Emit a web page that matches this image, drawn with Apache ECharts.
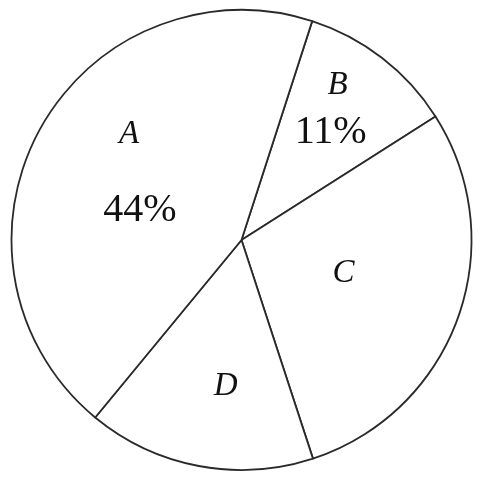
<!DOCTYPE html>
<html>
<head>
<meta charset="utf-8">
<script src="https://cdn.jsdelivr.net/npm/echarts@6/dist/echarts.min.js"></script>
<style>
  html, body { margin: 0; padding: 0; background: #fff; }
  #pieChart { width: 481px; height: 479px; }
</style>
</head>
<body>
<div id="pieChart"></div>
<script>
// 数据（顺时针，从 B 开始）
var categories = ['B', 'C', 'D', 'A'];
var values = [11, 29, 16, 44];
var showPercent = [true, false, false, true];

// 标签微调（相对扇区内部默认位置）
var labelShift = [[17, -38], [-9, -6], [6, 30], [2, -11]];

var serif = "'Liberation Serif', 'Times New Roman', serif";

var pieChart = echarts.init(document.getElementById('pieChart'), null, { renderer: 'canvas' });

var pieData = categories.map(function (name, i) {
    return { name: name, value: values[i] };
});

function richStyle(lh, pad) {
    return {
        n: { fontFamily: serif, fontStyle: 'italic', fontSize: 33, color: '#111111', lineHeight: lh, padding: pad },
        p: { fontFamily: serif, fontSize: 40, color: '#111111', lineHeight: lh }
    };
}

var option = {
    backgroundColor: '#ffffff',
    animation: false,
    series: [{
        type: 'pie',
        center: [241.5, 240],
        radius: [0, 230],
        startAngle: 72.1,
        clockwise: true,
        avoidLabelOverlap: false,
        itemStyle: {
            color: '#ffffff',
            borderColor: '#2a2a2a',
            borderWidth: 1.8
        },
        emphasis: { disabled: true },
        label: {
            show: true,
            position: 'inside',
            fontFamily: serif,
            color: '#111111',
            formatter: function (p) {
                var s = '{n|' + p.name + '}';
                if (showPercent[p.dataIndex]) {
                    s += '\n{p|' + Math.round(p.percent) + '%}';
                }
                return s;
            },
            rich: richStyle(40, 0)
        },
        labelLine: { show: false },
        data: pieData
    }]
};

// A 与 44% 之间间距较大，B 与 11% 间距较小
option.series[0].data[3].label = { rich: richStyle(76, [0, 22, 0, 0]) };
option.series[0].data[0].label = { rich: richStyle(47, [0, 0, 0, 14]) };

option.series[0].labelLayout = function (params) {
    var d = labelShift[params.dataIndex];
    return { dx: d[0], dy: d[1] };
};

pieChart.setOption(option);
</script>
</body>
</html>
